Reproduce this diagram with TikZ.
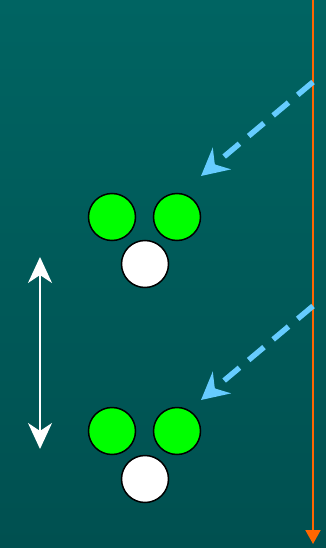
\documentclass[tikz,border=0pt]{standalone}
\usetikzlibrary{arrows.meta}
\definecolor{bgtop}{RGB}{0,100,98}
\definecolor{bgbot}{RGB}{0,80,80}
\definecolor{ballgreen}{RGB}{0,255,0}
\definecolor{skyarrow}{RGB}{102,204,255}
\definecolor{orangeline}{RGB}{255,102,0}
\tikzset{
  greenball/.style={circle,draw=black,line width=1.5pt,fill=ballgreen,minimum size=47pt,inner sep=0pt},
  whiteball/.style={circle,draw=black,line width=1.5pt,fill=white,minimum size=47pt,inner sep=0pt},
  motion/.style={skyarrow,line width=5.5pt,dash pattern=on 20pt off 12pt,-{Stealth[length=27pt,width=28pt,inset=9pt]}},
  vertarrow/.style={white,line width=2pt,{Stealth[length=26pt,width=24pt,inset=8pt]}-{Stealth[length=26pt,width=24pt,inset=8pt]}},
  beam/.style={orangeline,line width=2pt,-{Triangle[length=14pt,width=15pt]}}
}
\begin{document}
\begin{tikzpicture}[x=1pt,y=-1pt]
\shade[top color=bgtop,bottom color=bgbot] (0,0) rectangle (326,548);
\useasboundingbox (0,0) rectangle (326,548);
\coordinate (bt) at (313,0);
\coordinate (bb) at (313,544);
\draw[beam] (bt) -- (bb);
\coordinate (a1s) at (313,82);
\coordinate (a1e) at (201,176);
\coordinate (a2s) at (313,306);
\coordinate (a2e) at (201,400);
\draw[motion] (a1s) -- (a1e);
\draw[motion] (a2s) -- (a2e);
\node[greenball] (g1) at (112,217) {};
\node[greenball] (g2) at (177,217) {};
\node[whiteball] (w1) at (145,264) {};
\node[greenball] (g3) at (112,431) {};
\node[greenball] (g4) at (177,431) {};
\node[whiteball] (w2) at (145,479) {};
\coordinate (vt) at (40,257);
\coordinate (vb) at (40,449);
\draw[vertarrow] (vt) -- (vb);
\end{tikzpicture}
\end{document}
